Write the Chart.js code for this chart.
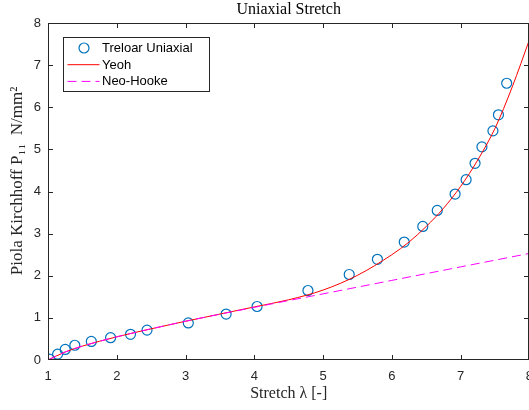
<!DOCTYPE html>
<html>
<head>
<meta charset="utf-8">
<title>Uniaxial Stretch</title>
<script src="https://cdn.jsdelivr.net/npm/chart.js@4.4.1/dist/chart.umd.min.js"></script>
<style>
    body { margin: 0; background: #ffffff; overflow: hidden; }
    /* canvas is wider than the window: Chart.js keeps ~12px right of the axes for the last label,
       the window edge then cuts the "8" the same way the original figure does */
    #wrap { width: 529px; height: 410px; overflow: hidden; }
</style>
</head>
<body>
<div id="wrap"><canvas id="stretchChart" width="542" height="410"></canvas></div>
<script>
// Treloar measurements (stretch, nominal stress)
const treloarStretch = [1.02, 1.14, 1.25, 1.39, 1.63, 1.91, 2.20, 2.44, 3.04, 3.59, 4.04, 4.78,
    5.38, 5.79, 6.18, 6.45, 6.66, 6.92, 7.08, 7.21, 7.31, 7.47, 7.55, 7.67];
const treloarStress = [0.02, 0.14, 0.25, 0.35, 0.44, 0.53, 0.61, 0.71, 0.88, 1.09, 1.27, 1.65,
    2.03, 2.39, 2.80, 3.17, 3.55, 3.94, 4.28, 4.67, 5.06, 5.44, 5.82, 6.57];

// Yeoh fit
const yeohStretch = [1, 1.25, 1.5, 2, 2.5, 3, 3.5, 4, 4.5, 5, 5.5, 6, 6.25, 6.5, 6.75, 7, 7.25, 7.5, 7.75, 8];
const yeohStress = [0, 0.19, 0.33, 0.55, 0.74, 0.92, 1.09, 1.26, 1.43, 1.66, 2.01, 2.50, 2.80, 3.17,
    3.60, 4.12, 4.75, 5.50, 6.48, 7.60];

// Neo-Hooke fit
const neoStretch = [1, 1.25, 1.5, 2, 2.5, 3, 4, 5, 6, 7, 8];
const neoStress = [0, 0.19, 0.33, 0.55, 0.74, 0.92, 1.25, 1.57, 1.89, 2.21, 2.53];

const xTicks = [1, 2, 3, 4, 5, 6, 7, 8];
const yTicks = [0, 1, 2, 3, 4, 5, 6, 7, 8];

const axisColor = '#262626';

/**
 * Zip two arrays into {x, y} points
 */
function toPoints(xs, ys) {
    return xs.map((x, i) => ({ x: x, y: ys[i] }));
}

/**
 * MATLAB style box with inward tick marks on all four sides
 */
const boxTicks = {
    id: 'boxTicks',
    afterDraw(chart) {
        const ctx = chart.ctx;
        const area = chart.chartArea;
        const xs = chart.scales.x;
        const ys = chart.scales.y;
        const L = Math.round(area.left);
        const R = Math.round(area.right);
        const T = Math.round(area.top);
        const B = Math.round(area.bottom);
        const len = 5;
        ctx.save();
        ctx.strokeStyle = axisColor;
        ctx.lineWidth = 1;
        ctx.beginPath();
        xTicks.forEach(v => {
            const px = Math.min(Math.round(xs.getPixelForValue(v)), R - 1) + 0.5;
            ctx.moveTo(px, B);
            ctx.lineTo(px, B - len);
            ctx.moveTo(px, T);
            ctx.lineTo(px, T + len);
        });
        yTicks.forEach(v => {
            const py = Math.min(Math.round(ys.getPixelForValue(v)), B - 1) + 0.5;
            ctx.moveTo(L, py);
            ctx.lineTo(L + len, py);
            ctx.moveTo(R, py);
            ctx.lineTo(R - len, py);
        });
        ctx.stroke();
        ctx.strokeRect(L + 0.5, T + 0.5, R - L - 1, B - T - 1);
        ctx.restore();
    }
};

/**
 * Legend box in the upper left corner of the axes
 */
const boxLegend = {
    id: 'boxLegend',
    afterDraw(chart) {
        const ctx = chart.ctx;
        const area = chart.chartArea;
        const left = Math.round(area.left) + 15.5;
        const top = Math.round(area.top) + 14.5;
        const rowH = 16.7;
        ctx.save();
        ctx.fillStyle = '#ffffff';
        ctx.fillRect(left, top, 146, 54);
        ctx.strokeStyle = axisColor;
        ctx.lineWidth = 1;
        ctx.strokeRect(left, top, 146, 54);
        ctx.font = '13px "Liberation Sans", Arial, sans-serif';
        ctx.textBaseline = 'middle';
        chart.data.datasets.forEach((ds, i) => {
            const y = top + 10.5 + i * rowH;
            ctx.strokeStyle = ds.borderColor;
            ctx.lineWidth = ds.borderWidth;
            ctx.setLineDash(ds.borderDash || []);
            ctx.beginPath();
            if (ds.showLine) {
                ctx.moveTo(left + 4, y);
                ctx.lineTo(left + 36, y);
            } else {
                ctx.arc(left + 20.5, y, ds.pointRadius, 0, Math.PI * 2);
            }
            ctx.stroke();
            ctx.setLineDash([]);
            ctx.fillStyle = '#000000';
            ctx.fillText(ds.label, left + 38.5, y + 0.5);
        });
        ctx.restore();
    }
};

document.addEventListener('DOMContentLoaded', function() {
    const tickFont = { family: '"Liberation Sans", Arial, sans-serif', size: 13 };
    const serif = '"Liberation Serif", "Times New Roman", serif';

    new Chart(document.getElementById('stretchChart').getContext('2d'), {
        type: 'scatter',
        data: {
            datasets: [
                {
                    label: 'Treloar Uniaxial',
                    data: toPoints(treloarStretch, treloarStress),
                    borderColor: '#0072BD',
                    backgroundColor: 'rgba(0,0,0,0)',
                    borderWidth: 1.2,
                    pointRadius: 5,
                    showLine: false,
                    order: 3
                },
                {
                    label: 'Yeoh',
                    data: toPoints(yeohStretch, yeohStress),
                    borderColor: '#FF0000',
                    borderWidth: 1,
                    pointRadius: 0,
                    showLine: true,
                    cubicInterpolationMode: 'monotone',
                    order: 2
                },
                {
                    label: 'Neo-Hooke',
                    data: toPoints(neoStretch, neoStress),
                    borderColor: '#FF00FF',
                    borderWidth: 1,
                    borderDash: [9, 5],
                    pointRadius: 0,
                    showLine: true,
                    cubicInterpolationMode: 'monotone',
                    order: 1
                }
            ]
        },
        options: {
            responsive: false,
            animation: false,
            layout: { padding: 0 },
            plugins: {
                legend: { display: false },
                tooltip: { enabled: false },
                title: {
                    display: true,
                    fullSize: false,
                    text: 'Uniaxial Stretch',
                    color: '#000000',
                    font: { family: serif, size: 16, weight: 'normal' },
                    padding: { top: 0.5, bottom: 3.3 }
                }
            },
            scales: {
                x: {
                    type: 'linear',
                    min: 1,
                    max: 8,
                    afterBuildTicks: s => { s.ticks = xTicks.map(v => ({ value: v })); },
                    afterFit: s => { s.height = 50; },
                    grid: { display: false, drawTicks: false },
                    border: { display: false },
                    ticks: { color: axisColor, font: tickFont, padding: 9, maxRotation: 0 },
                    title: {
                        display: true,
                        text: 'Stretch \u03bb [-]',
                        color: axisColor,
                        font: { family: serif, size: 16 },
                        padding: { top: 0, bottom: 7 }
                    }
                },
                y: {
                    type: 'linear',
                    min: 0,
                    max: 8,
                    afterBuildTicks: s => { s.ticks = yTicks.map(v => ({ value: v })); },
                    afterFit: s => { s.width = 48; },
                    grid: { display: false, drawTicks: false },
                    border: { display: false },
                    ticks: { color: axisColor, font: tickFont, padding: 7 },
                    title: {
                        display: true,
                        text: '     Piola Kirchhoff P\u2081\u2081  N/mm\u00b2',
                        color: axisColor,
                        font: { family: serif, size: 17 },
                        padding: { top: 7, bottom: 0 }
                    }
                }
            }
        },
        plugins: [boxTicks, boxLegend]
    });
});
</script>
</body>
</html>
